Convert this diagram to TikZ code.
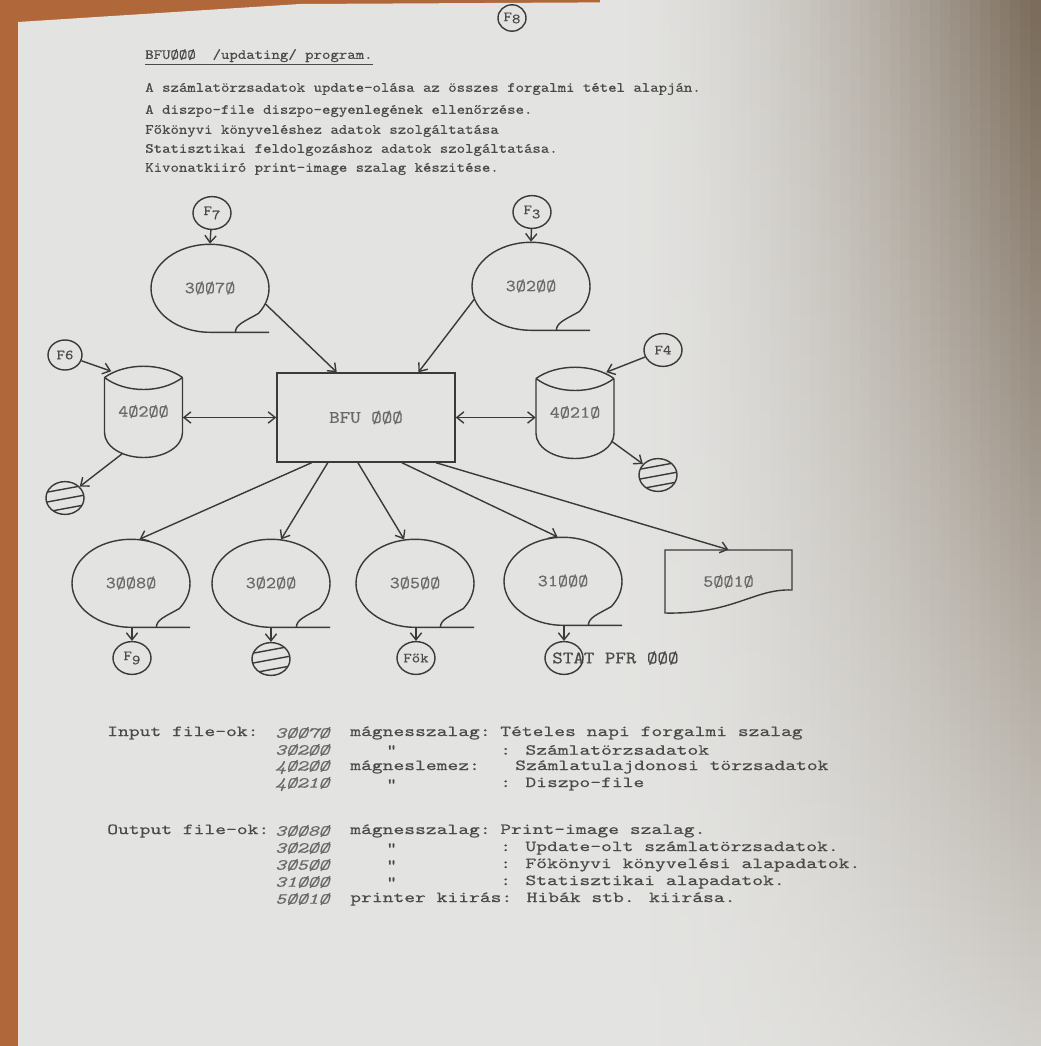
\documentclass[tikz,border=0pt]{standalone}
\usepackage{fontspec}
\setmonofont{lmmono10-regular.otf}[FakeStretch=1.14, FakeBold=0.4, ItalicFont=lmmono10-italic.otf]
\newfontfamily\listfont{lmmono10-regular.otf}[FakeStretch=1.33, FakeBold=0.4, ItalicFont=lmmono10-italic.otf]
\usepackage{tikz}
\usetikzlibrary{arrows.meta,shapes.geometric,calc}

\definecolor{paper}{HTML}{E3E3E1}
\definecolor{desk}{HTML}{B0683A}
\definecolor{shadow}{HTML}{7A6B5A}
\definecolor{ink}{HTML}{3A3A3A}
\definecolor{typed}{HTML}{4A4A4A}
\definecolor{pencil}{HTML}{6A6A6A}

\begin{document}
\begin{tikzpicture}[
    x=0.025cm, y=0.025cm,
    filecirc/.style={
        draw=ink,
        line width=1pt,
        ellipse,
        inner sep=0pt,
        minimum width=0.95cm,
        minimum height=0.82cm,
        font=\ttfamily\fontsize{10}{10}\selectfont,
        text=typed
    },
    hatched/.style={
        filecirc,
        path picture={
            \foreach \k in {-7,0,7}
                \draw[ink, line width=1pt]
                    ([yshift={(\k-3)*1pt}]path picture bounding box.west) --
                    ([yshift={(\k+2)*1pt}]path picture bounding box.east);
        }
    },
    tape/.style={
        ellipse,
        inner sep=0pt,
        minimum width=2.95cm,
        minimum height=2.2cm,
        font=\ttfamily\fontsize{12}{12}\selectfont,
        text=pencil
    },
    disk/.style={
        rectangle,
        inner sep=0pt,
        minimum width=1.95cm,
        minimum height=2.35cm,
        font=\ttfamily\fontsize{12}{12}\selectfont,
        text=pencil
    },
    doc/.style={
        rectangle,
        inner sep=0pt,
        minimum width=3.175cm,
        minimum height=1.575cm,
        font=\ttfamily\fontsize{12}{12}\selectfont,
        text=pencil
    },
    prog/.style={
        draw=ink,
        line width=1pt,
        rectangle,
        minimum width=4.45cm,
        minimum height=2.225cm,
        font=\ttfamily\fontsize{12.5}{12.5}\selectfont,
        text=pencil
    },
    typed/.style={
        anchor=west,
        inner sep=0pt,
        font=\ttfamily\fontsize{10}{10}\selectfont,
        text=typed
    },
    listtxt/.style={
        anchor=west,
        inner sep=0pt,
        font=\listfont\fontsize{11}{11}\selectfont,
        text=typed
    },
    listnum/.style={
        listtxt,
        font=\listfont\itshape\fontsize{11}{11}\selectfont,
        text=pencil
    },
    flow/.style={ink, line width=1pt, -{Straight Barb[length=5pt,width=8pt]}},
    both/.style={ink, line width=1pt, {Straight Barb[length=5pt,width=8pt]}-{Straight Barb[length=5pt,width=8pt]}}
]

% photo background: desk, sheet and the shadow on the right
\useasboundingbox (0,0) rectangle (1040,-1046);
\fill[desk] (0,0) rectangle (1040,-1046);
\fill[paper] (18,-1046) -- (18,-22) -- (300,-4) -- (1040,0) -- (1040,-1046) -- cycle;
\foreach \i in {0,...,43}{
    \pgfmathsetmacro\p{100*(\i/43)^1.8}
    \pgfmathsetmacro\q{0.75*\p}
    \pgfmathsetmacro\r{0.15*\p}
    \fill[top color=shadow!\p!paper, middle color=shadow!\q!paper, bottom color=shadow!\r!paper]
        (600+10*\i,0) rectangle (616+10*\i,-1046);
}

% page heading
\node[filecirc, minimum width=0.7cm, minimum height=0.66cm] (f8) at (512,-18) {F\raisebox{-1.5pt}{8}};

\node[typed] (title) at (145,-57) {\underline{BFUØØØ\ \ /updating/ program.}};
\node[typed] (aim1) at (145,-89) {A számlatörzsadatok update-olása az összes forgalmi tétel alapján.};
\node[typed] (aim2) at (145,-111) {A diszpo-file diszpo-egyenlegének ellenőrzése.};
\node[typed] (aim3) at (145,-131) {Főkönyvi könyveléshez adatok szolgáltatása};
\node[typed] (aim4) at (145,-150) {Statisztikai feldolgozáshoz adatok szolgáltatása.};
\node[typed] (aim5) at (145,-169) {Kivonatkiiró print-image szalag készitése.};

% inputs
\node[filecirc] (f7) at (212,-213) {F\raisebox{-3pt}{7}};
\node[tape] (t30070) at (210,-288) {3ØØ7Ø};
\node[filecirc] (f3) at (532,-212) {F\raisebox{-3pt}{3}};
\node[tape] (t30200a) at (531,-286) {3Ø2ØØ};

\node[prog] (bfu) at (366,-417.5) {BFU ØØØ\hspace{0.7cm}};

\node[disk] (d40200) at (143.5,-411.5) {4Ø2ØØ};
\node[disk] (d40210) at (575,-412.5) {4Ø21Ø};
\node[filecirc, minimum width=0.85cm, minimum height=0.75cm] (f6) at (65,-355) {F6};
\node[filecirc] (f4) at (663,-350) {F4};
\node[hatched] (h1) at (65,-498) {};
\node[hatched] (h2) at (658,-475) {};

% outputs
\node[tape] (t30080) at (131,-583) {3ØØ8Ø};
\node[tape] (t30200b) at (271,-583) {3Ø2ØØ};
\node[tape] (t30500) at (415,-583) {3Ø5ØØ};
\node[tape] (t31000) at (563,-581) {31ØØØ};
\node[doc] (d50010) at (728.5,-581.5) {5ØØ1Ø};
\node[filecirc] (f9) at (132,-658) {F\raisebox{-3pt}{9}};
\node[hatched] (h3) at (271,-659) {};
\node[filecirc] (fok) at (416,-658) {Fők};
\node[filecirc] (stat) at (564,-658) {};
\node[anchor=west, inner sep=0pt, font=\ttfamily\fontsize{12.5}{12.5}\selectfont, text=typed] (statpfr) at (552,-658) {STAT PFR ØØØ};

% tape, disk and printer outlines
\foreach \t in {t30070,t30200a,t30080,t30200b,t30500,t31000}
    \draw[ink, line width=1pt] ($(\t.south)+(59,0)$) -- (\t.south)
        arc[start angle=270, end angle=-35, x radius=59, y radius=44]
        .. controls +(-14,-8) and +(0,8) .. ++(-23,-19);

\foreach \d in {d40200,d40210}
    \draw[ink, line width=1pt, shift={(\d.center)}]
        (-39,34) .. controls (-18,49) and (18,49) .. (39,34)
        (-39,34) .. controls (-18,18) and (18,18) .. (39,34)
        (-39,34) -- (-39,-21) arc[start angle=180, end angle=360, x radius=39, y radius=25] -- (39,34);

\draw[ink, line width=1pt, shift={(d50010.center)}]
    (-63.5,-31.5) -- (-63.5,31.5) -- (63.5,31.5) -- (63.5,-8.5)
    .. controls (25,-7) and (5,-33) .. (-63.5,-31.5) -- cycle;

% connections
\draw[flow] (f7) -- (t30070.north);
\draw[flow] (f3) -- (t30200a.north);
\draw[flow] (t30070.-16) -- ($(bfu.north west)!0.337!(bfu.north east)$);
\draw[flow] (t30200a.193) -- ($(bfu.north west)!0.792!(bfu.north east)$);
\draw[flow] (f6) -- ($(d40200.north west)+(7,-7)$);
\draw[flow] (f4) -- ($(d40210.north east)+(-8,-7)$);
\draw[both] (d40200.east |- bfu.west) -- (bfu.west);
\draw[both] (bfu.east) -- (bfu.east -| d40210.west);
\draw[flow] ($(d40200.center)+(-21,-42)$) -- (h1);
\draw[flow] ($(d40210.center)+(37,-29)$) -- (h2);

\draw[flow] ($(bfu.south west)!0.197!(bfu.south east)$) -- (t30080.79);
\draw[flow] ($(bfu.south west)!0.287!(bfu.south east)$) -- (t30200b.77);
\draw[flow] ($(bfu.south west)!0.455!(bfu.south east)$) -- (t30500.104);
\draw[flow] ($(bfu.south west)!0.70!(bfu.south east)$) -- (t31000.97);
\draw[flow] ($(bfu.south west)!0.89!(bfu.south east)$) -- (d50010.north);

\draw[flow] (f9.north |- t30080.south) -- (f9.north);
\draw[flow] (h3.north |- t30200b.south) -- (h3.north);
\draw[flow] (fok.north |- t30500.south) -- (fok.north);
\draw[flow] (stat.north |- t31000.south) -- (stat.north);

% file list
\node[listtxt] (inlbl) at (107,-733) {Input file-ok:};
\foreach \n/\y [count=\i] in {3ØØ7Ø/733, 3Ø2ØØ/750, 4Ø2ØØ/767, 4Ø21Ø/784}
    \node[listnum] (innum\i) at (275,-\y) {\n};
\node[listtxt] (in1) at (350,-733) {mágnesszalag:};
\node[listtxt] (in1d) at (500,-733) {Tételes napi forgalmi szalag};
\node[listtxt] (in2q) at (386,-750) {"};
\node[listtxt] (in2d) at (500,-750) {: Számlatörzsadatok};
\node[listtxt] (in3) at (350,-767) {mágneslemez:};
\node[listtxt] (in3d) at (515,-767) {Számlatulajdonosi törzsadatok};
\node[listtxt] (in4q) at (386,-784) {"};
\node[listtxt] (in4d) at (500,-784) {: Diszpo-file};

\node[listtxt] (outlbl) at (107,-831) {Output file-ok:};
\foreach \n/\y [count=\i] in {3ØØ8Ø/831, 3Ø2ØØ/848, 3Ø5ØØ/865, 31ØØØ/882, 5ØØ1Ø/899}
    \node[listnum] (outnum\i) at (275,-\y) {\n};
\node[listtxt] (out1) at (350,-831) {mágnesszalag:};
\node[listtxt] (out1d) at (500,-831) {Print-image szalag.};
\foreach \y [count=\i] in {848,865,882}
    \node[listtxt] (outq\i) at (386,-\y) {"};
\node[listtxt] (out2d) at (500,-848) {: Update-olt számlatörzsadatok.};
\node[listtxt] (out3d) at (500,-865) {: Főkönyvi könyvelési alapadatok.};
\node[listtxt] (out4d) at (500,-882) {: Statisztikai alapadatok.};
\node[listtxt] (out5) at (350,-899) {printer kiirás: Hibák stb. kiirása.};

\end{tikzpicture}
\end{document}
